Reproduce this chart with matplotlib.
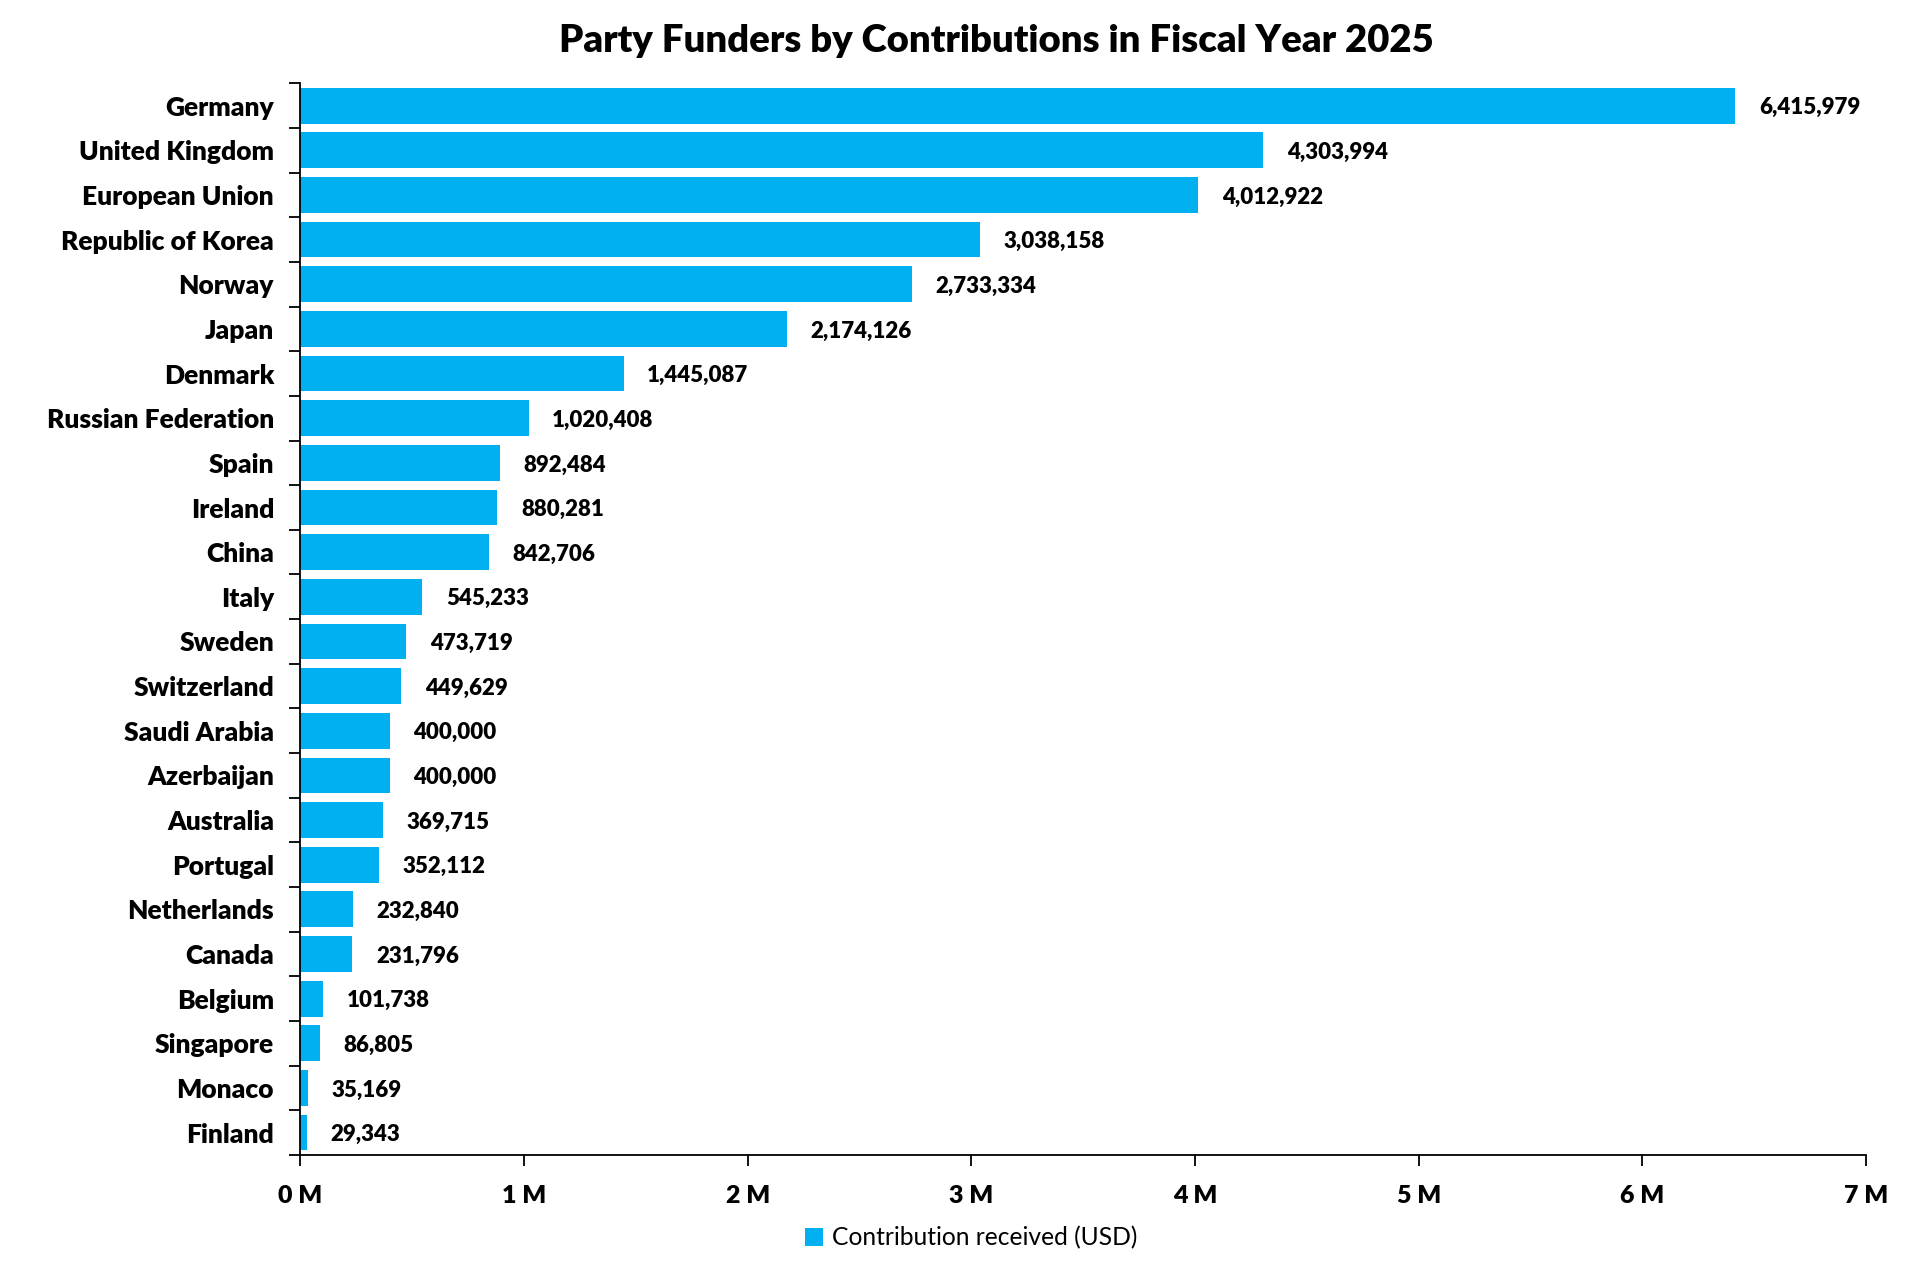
import matplotlib
matplotlib.use("Agg")
import matplotlib.pyplot as plt
from matplotlib.ticker import FuncFormatter, FixedLocator
from matplotlib.patches import Patch

countries = ["Germany", "United Kingdom", "European Union", "Republic of Korea", "Norway",
             "Japan", "Denmark", "Russian Federation", "Spain", "Ireland", "China", "Italy",
             "Sweden", "Switzerland", "Saudi Arabia", "Azerbaijan", "Australia", "Portugal",
             "Netherlands", "Canada", "Belgium", "Singapore", "Monaco", "Finland"]
contributions = [6415979, 4303994, 4012922, 3038158, 2733334, 2174126, 1445087, 1020408,
                 892484, 880281, 842706, 545233, 473719, 449629, 400000, 400000, 369715,
                 352112, 232840, 231796, 101738, 86805, 35169, 29343]
x_ticks = [0, 1e6, 2e6, 3e6, 4e6, 5e6, 6e6, 7e6]
title = "Party Funders by Contributions in Fiscal Year 2025"
series_name = "Contribution received (USD)"

plt.rcParams['font.family'] = ['Lato', 'DejaVu Sans']
color = "#00B0F0"
W = 'heavy'

fig = plt.figure(figsize=(19.2, 12.69), dpi=100)
ax = fig.add_axes([0.1565, 0.0899, 0.8154, 0.8444])

y = list(range(len(countries)))
ax.barh(y, contributions, height=0.8, color=color)
ax.set_ylim(len(countries) - 0.5, -0.5)
ax.set_xlim(0, 7e6)

ax.set_yticks(y)
ax.set_yticklabels(countries, fontsize=19, fontweight=W)
ax.tick_params(axis='y', which='major', length=0, pad=19)
ax.yaxis.set_minor_locator(FixedLocator([i - 0.5 for i in range(len(countries) + 1)]))
ax.tick_params(axis='y', which='minor', length=8, width=1.3, direction='out')

ax.xaxis.set_major_locator(FixedLocator(x_ticks))
ax.xaxis.set_major_formatter(FuncFormatter(lambda v, p: f"{int(round(v / 1e6))} M"))
ax.tick_params(axis='x', length=8, width=1.3, direction='out', labelsize=18, pad=14)
for lab in ax.get_xticklabels():
    lab.set_fontweight(W)

for s in ['top', 'right']:
    ax.spines[s].set_visible(False)
for s in ['left', 'bottom']:
    ax.spines[s].set_linewidth(1.3)

for yi, v in zip(y, contributions):
    ax.annotate(f"{v:,}", xy=(v, yi), xytext=(17, -1.5), textcoords='offset points',
                va='center', ha='left', fontsize=16, fontweight=W)

fig.text(0.519, 0.968, title, ha='center', va='center', fontsize=27.5, fontweight=W)

handles = [Patch(facecolor=color, label=series_name)]
fig.legend(handles=handles, loc='center', bbox_to_anchor=(0.506, 0.0245), frameon=False,
           fontsize=17.7, handlelength=0.7, handleheight=0.7, handletextpad=0.4)

fig.savefig("out.png", dpi=100)
